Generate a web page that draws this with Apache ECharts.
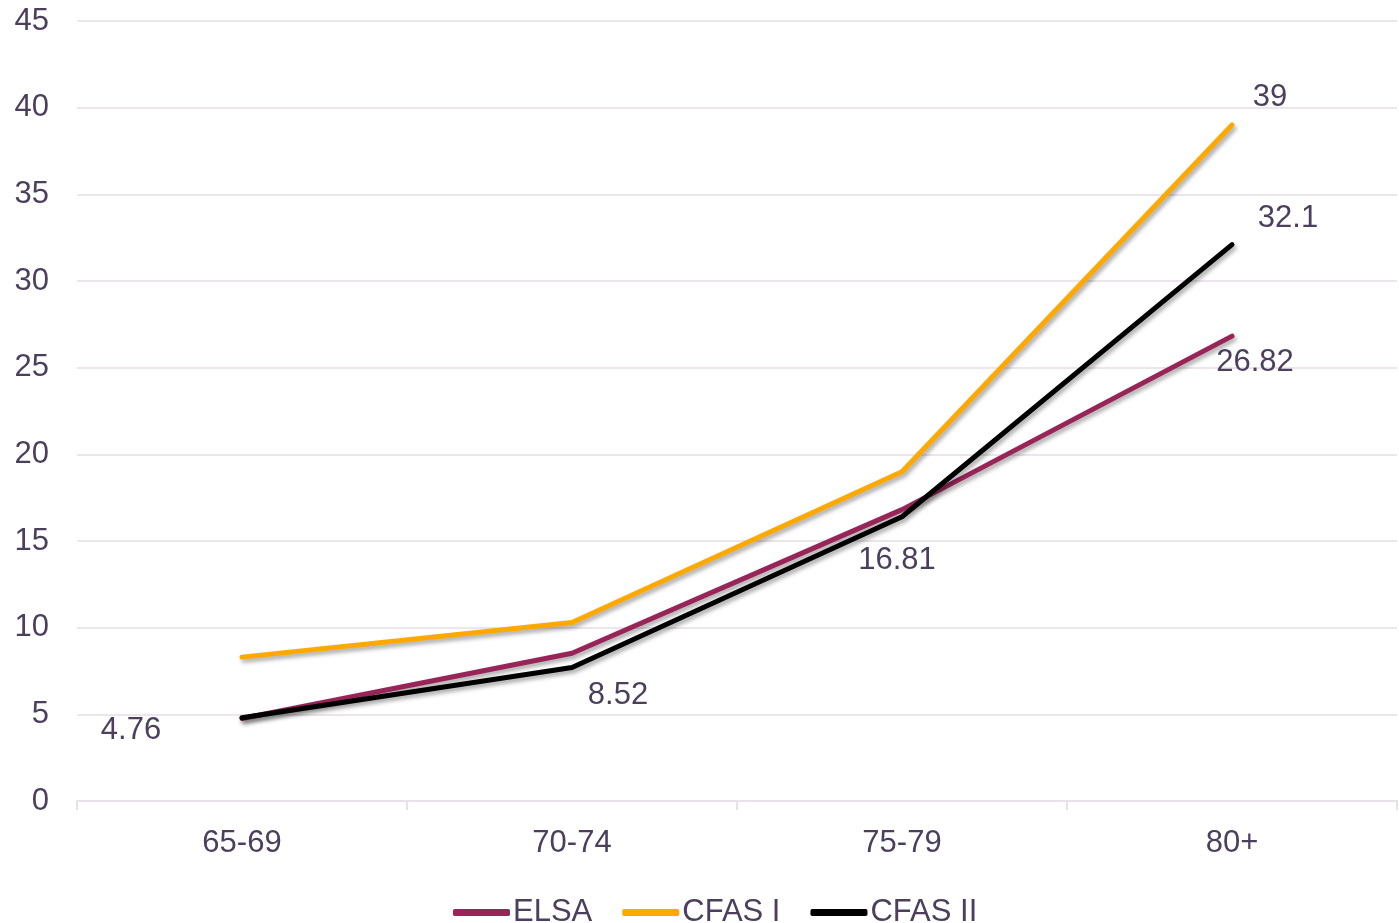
<!DOCTYPE html>
<html>
<head>
<meta charset="utf-8">
<script src="https://cdn.jsdelivr.net/npm/echarts@6/dist/echarts.min.js"></script>
<style>
  html, body { margin: 0; padding: 0; background: #fff; }
  #chart { width: 1399px; height: 923px; }
</style>
</head>
<body>
<div id="chart"></div>
<script>
// data
const categories = ['65-69', '70-74', '75-79', '80+']
const elsa = [4.76, 8.52, 16.81, 26.82]
const cfas1 = [8.3, 10.3, 19, 39]
const cfas2 = [4.8, 7.7, 16.4, 32.1]
const yTicks = { min: 0, max: 45, interval: 5 }

const textColor = '#4b3f5d'
const font = '"Liberation Sans", Arial, sans-serif'
const fs = 31

// label offsets relative to the point (label centred on point first)
const elsaOffsets = [[-111, 12], [46, 42], [-5, 51], [23, 26]]

function withLabels (values, offsets) {
  return values.map((v, i) => {
    if (!offsets[i]) return v
    return {
      value: v,
      label: { show: true, position: 'inside', offset: offsets[i] }
    }
  })
}

const shadow = {
  shadowColor: 'rgba(0,0,0,0.35)',
  shadowBlur: 4,
  shadowOffsetX: 2,
  shadowOffsetY: 3
}

const labelStyle = {
  show: false,
  color: textColor,
  fontSize: fs,
  fontFamily: font
}

function lineSeries (name, color, data, z) {
  return {
    name: name,
    type: 'line',
    symbol: 'circle',
    symbolSize: 1, // labels need a symbol to hang on
    showSymbol: true,
    color: color,
    itemStyle: { color: color },
    lineStyle: Object.assign({ width: 5, cap: 'round', join: 'round' }, shadow),
    label: Object.assign({}, labelStyle),
    z: z,
    data: data
  }
}

let myChart = echarts.init(document.getElementById('chart'))
myChart.setOption({
  backgroundColor: '#fff',
  animation: false,
  grid: {
    left: 77,
    right: 2,
    top: 21,
    bottom: 122
  },
  legend: {
    bottom: -10,
    left: 448,
    itemWidth: 57,
    itemHeight: 7,
    itemGap: 30,
    icon: 'roundRect',
    textStyle: {
      color: textColor,
      fontSize: fs,
      fontFamily: font,
      padding: [0, 0, 0, -2]
    },
    data: ['ELSA', 'CFAS I', 'CFAS II']
  },
  xAxis: {
    type: 'category',
    data: categories,
    boundaryGap: true,
    axisLine: { lineStyle: { color: '#e9e1e9', width: 2 } },
    axisTick: { show: true, length: 9, lineStyle: { color: '#e9e1e9', width: 2 } },
    axisLabel: {
      color: textColor,
      fontSize: fs,
      fontFamily: font,
      margin: 27
    }
  },
  yAxis: {
    type: 'value',
    min: yTicks.min,
    max: yTicks.max,
    interval: yTicks.interval,
    axisLine: { show: false },
    axisTick: { show: false },
    splitLine: { lineStyle: { color: '#ece5ec', width: 2 } },
    axisLabel: {
      color: textColor,
      fontSize: fs,
      fontFamily: font,
      margin: 28,
      padding: [8, 0, 0, 0]
    }
  },
  series: [
    lineSeries('ELSA', '#982458', withLabels(elsa, elsaOffsets), 2),
    lineSeries('CFAS I', '#ffa800', withLabels(cfas1, [null, null, null, [38, -28]]), 3),
    lineSeries('CFAS II', '#000000', withLabels(cfas2, [null, null, null, [56, -26]]), 4)
  ]
})
</script>
</body>
</html>
